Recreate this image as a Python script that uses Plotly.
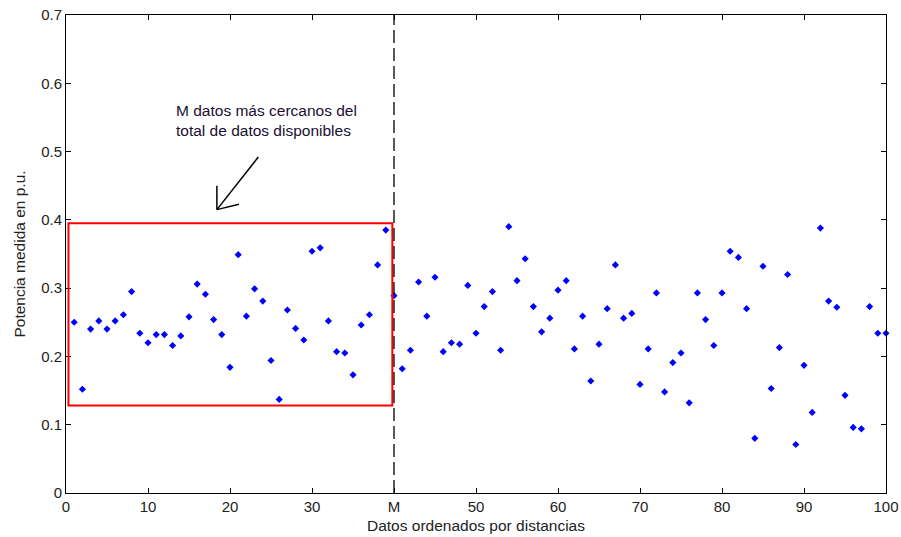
import plotly.graph_objects as go

x_idx = list(range(1, 101))
potencia = [
    0.250, 0.152, 0.240, 0.252, 0.240, 0.252, 0.261, 0.295, 0.234, 0.220,
    0.232, 0.232, 0.216, 0.230, 0.258, 0.306, 0.291, 0.254, 0.232, 0.184,
    0.349, 0.259, 0.299, 0.281, 0.194, 0.137, 0.268, 0.241, 0.224, 0.354,
    0.359, 0.252, 0.207, 0.205, 0.173, 0.246, 0.261, 0.334, 0.385, 0.289,
    0.182, 0.209, 0.309, 0.259, 0.316, 0.207, 0.220, 0.218, 0.304, 0.234,
    0.273, 0.295, 0.209, 0.390, 0.311, 0.343, 0.273, 0.236, 0.256, 0.297,
    0.311, 0.211, 0.259, 0.164, 0.218, 0.270, 0.334, 0.256, 0.263, 0.159,
    0.211, 0.293, 0.148, 0.191, 0.205, 0.132, 0.293, 0.254, 0.216, 0.293,
    0.354, 0.345, 0.270, 0.080, 0.332, 0.153, 0.213, 0.320, 0.071, 0.187,
    0.118, 0.388, 0.281, 0.272, 0.143, 0.096, 0.094, 0.273, 0.234, 0.234,
]
x_tickvals = [0, 10, 20, 30, 40, 50, 60, 70, 80, 90, 100]
x_ticktext = ["0", "10", "20", "30", "M", "50", "60", "70", "80", "90", "100"]
y_tickvals = [0, 0.1, 0.2, 0.3, 0.4, 0.5, 0.6, 0.7]
y_ticktext = ["0", "0.1", "0.2", "0.3", "0.4", "0.5", "0.6", "0.7"]
M = 40
rect_x = [0.3, 39.8]
rect_y = [0.128, 0.395]
annot_text = "M datos más cercanos del<br>total de datos disponibles"

font = "Liberation Sans, Arial, sans-serif"

fig = go.Figure()
fig.add_trace(go.Scatter(
    x=x_idx, y=potencia, mode="markers",
    marker=dict(symbol="diamond", size=5.5, color="#0000ff", line=dict(width=0)),
    showlegend=False, cliponaxis=False,
))

shapes = [
    dict(type="rect", xref="x", yref="y", x0=rect_x[0], x1=rect_x[1],
         y0=rect_y[0], y1=rect_y[1], line=dict(color="#ff0000", width=2)),
    dict(type="line", xref="x", yref="y", x0=M, x1=M, y0=0, y1=0.7,
         line=dict(color="black", width=1.3, dash="13px,5px")),
    # hand-drawn arrow
    dict(type="line", xref="x", yref="y", x0=23.45, y0=0.492, x1=18.4, y1=0.415,
         line=dict(color="black", width=1.5)),
    dict(type="line", xref="x", yref="y", x0=18.4, y0=0.415, x1=18.4, y1=0.450,
         line=dict(color="black", width=1.5)),
    dict(type="line", xref="x", yref="y", x0=18.4, y0=0.415, x1=21.1, y1=0.423,
         line=dict(color="black", width=1.5)),
]

fig.update_layout(
    width=901, height=537,
    margin=dict(l=66, r=15, t=15, b=44),
    paper_bgcolor="white", plot_bgcolor="white",
    font=dict(family=font, size=12, color="#222222"),
    shapes=shapes,
    annotations=[dict(
        x=13.2, y=0.546, xref="x", yref="y", text=annot_text, showarrow=False,
        xanchor="left", yanchor="middle", align="left",
        font=dict(family=font, size=15.5, color="#1a1030"),
    )],
    xaxis=dict(
        range=[0, 100], tickvals=x_tickvals, ticktext=x_ticktext,
        ticks="inside", ticklen=5, tickcolor="black", mirror="allticks",
        showline=True, linecolor="black", linewidth=1, showgrid=False, zeroline=False,
        automargin=False,
        tickfont=dict(size=15), title=dict(text="Datos ordenados por distancias",
                                           font=dict(size=15.5), standoff=6),
    ),
    yaxis=dict(
        range=[0, 0.7], tickvals=y_tickvals, ticktext=y_ticktext,
        ticks="inside", ticklen=5, tickcolor="black", mirror="allticks",
        showline=True, linecolor="black", linewidth=1, showgrid=False, zeroline=False,
        automargin=False,
        tickfont=dict(size=15), title=dict(text="Potencia medida en p.u.",
                                           font=dict(size=15.5), standoff=11),
    ),
)

fig.write_html("out.html")
